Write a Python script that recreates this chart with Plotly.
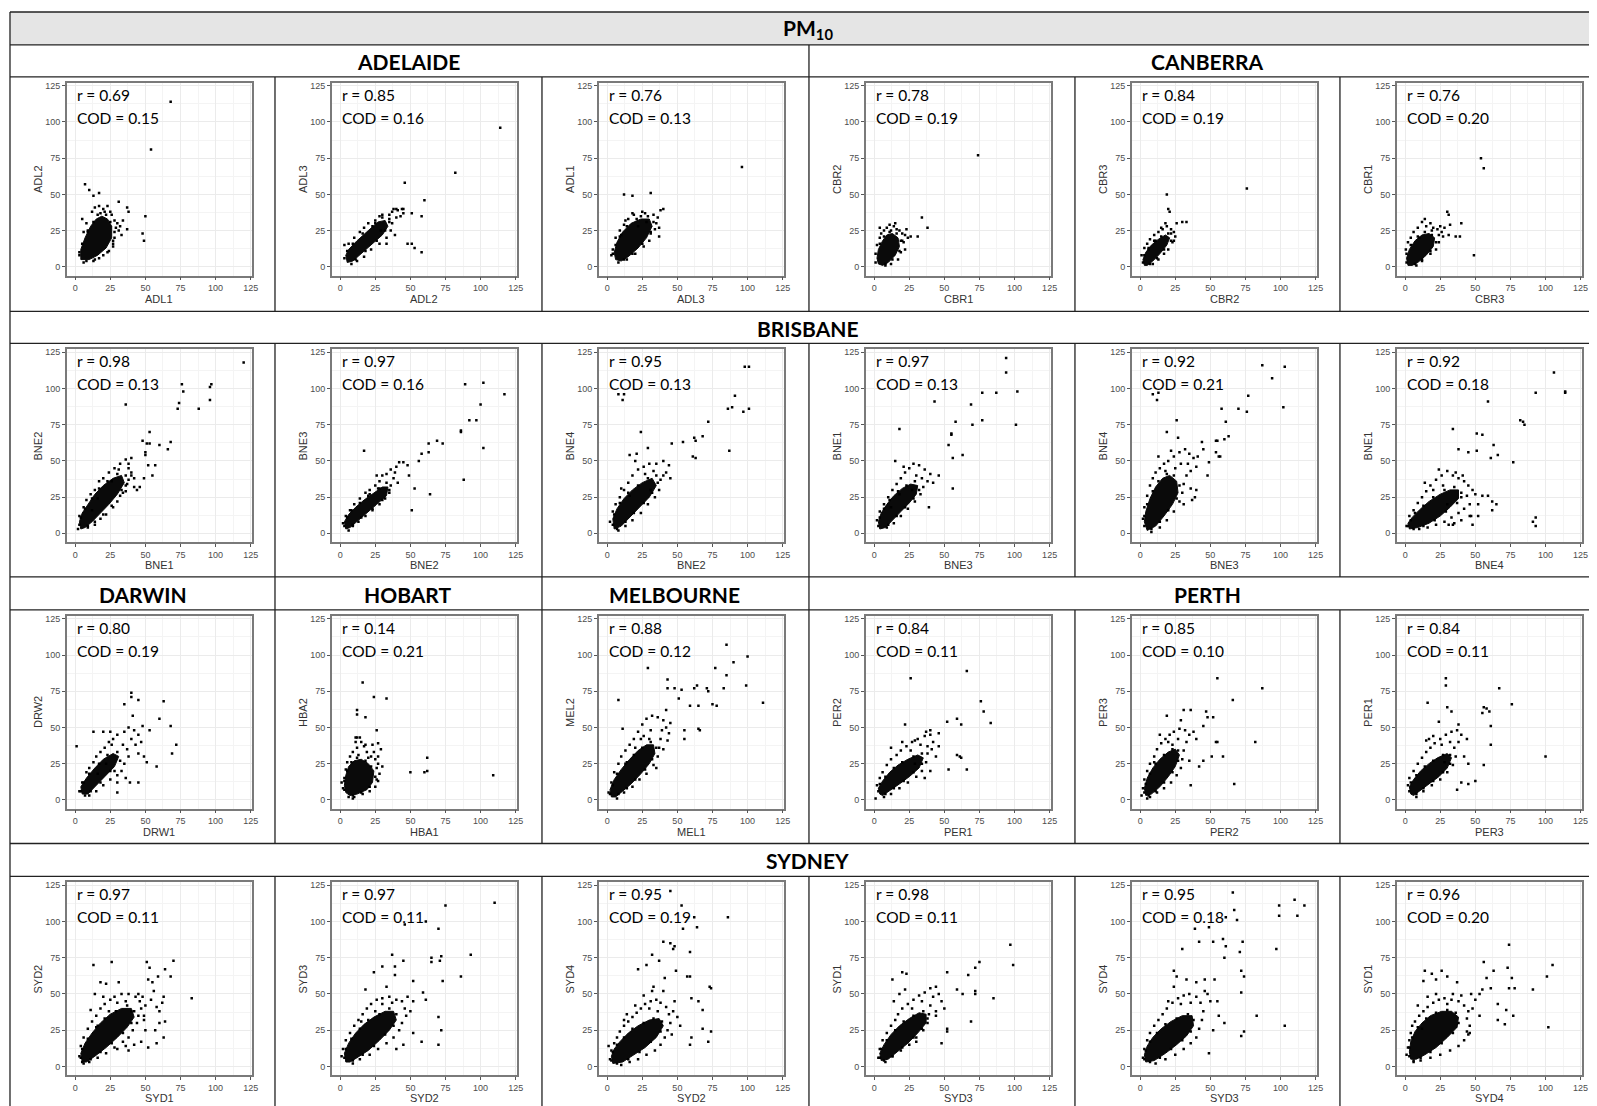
import plotly.graph_objects as go

# ---------------- data ----------------
header_title = "PM<sub>10</sub>"
x_labels = ["ADL1", "ADL2", "ADL3", "CBR1", "CBR2", "CBR3",
            "BNE1", "BNE2", "BNE2", "BNE3", "BNE3", "BNE4",
            "DRW1", "HBA1", "MEL1", "PER1", "PER2", "PER3",
            "SYD1", "SYD2", "SYD2", "SYD3", "SYD3", "SYD4"]
y_labels = ["ADL2", "ADL3", "ADL1", "CBR2", "CBR3", "CBR1",
            "BNE2", "BNE3", "BNE4", "BNE1", "BNE4", "BNE1",
            "DRW2", "HBA2", "MEL2", "PER2", "PER3", "PER1",
            "SYD2", "SYD3", "SYD4", "SYD1", "SYD4", "SYD1"]
r_values = [0.69, 0.85, 0.76, 0.78, 0.84, 0.76,
            0.98, 0.97, 0.95, 0.97, 0.92, 0.92,
            0.80, 0.14, 0.88, 0.84, 0.85, 0.84,
            0.97, 0.97, 0.95, 0.98, 0.95, 0.96]
cod_values = [0.15, 0.16, 0.13, 0.19, 0.19, 0.20,
              0.13, 0.16, 0.13, 0.13, 0.21, 0.18,
              0.19, 0.21, 0.12, 0.11, 0.10, 0.11,
              0.11, 0.11, 0.19, 0.11, 0.18, 0.20]
axis_ticks = [0, 25, 50, 75, 100, 125]
# city title, panel row, first column, last column
city_titles = [("ADELAIDE", 0, 0, 2), ("CANBERRA", 0, 3, 5),
               ("BRISBANE", 1, 0, 5),
               ("DARWIN", 2, 0, 0), ("HOBART", 2, 1, 1), ("MELBOURNE", 2, 2, 2), ("PERTH", 2, 3, 5),
               ("SYDNEY", 3, 0, 5)]

# dense cores of each point cloud (estimated outline) and the individual sparse points
core_ADL1_ADL2 = [(4,5),(4,12),(7,20),(11,28),(15,33),(19,35),(23,33),(26,28),(26,20),(22,13),(16,8),(10,5)]
pts_ADL1_ADL2 = [(68,114),(54,81),(7,57),(10,53),(13,49),(17,51),(50,35),(48,23),(49,18),(31,45),(37,41),(38,38),
                 (37,26),(27,14),(5,33),(8,30),(12,38),(14,41),(17,42),(20,40),(23,42),(25,38),(28,32),(30,30),
                 (31,25),(32,28),(33,22),(28,20),(27,16),(24,11),(20,8),(17,6),(13,4),(6,3),(3,8),(6,24),(9,25),
                 (18,37),(21,38),(29,27),(34,32),(26,36),
                 (3,10),(5,16),(9,24),(13,31),(16,36),(22,36),(25,31),(28,24),(27,18),(23,10),(14,5),(8,4)]
core_ADL2_ADL3 = [(5,3),(4,8),(6,12),(12,18),(20,25),(27,31),(32,32),(34,28),(30,22),(22,15),(15,9),(9,4)]
pts_ADL2_ADL3 = [(114,96),(82,65),(46,58),(60,46),(58,35),(51,37),(48,16),(51,16),(53,13),(58,10),(45,40),(40,40),
                 (37,38),(3,15),(6,16),(10,20),(14,24),(17,27),(20,30),(25,32),(28,35),(35,36),(38,40),(41,39),
                 (44,40),(43,35),(37,30),(36,25),(33,20),(28,16),(22,12),(17,7),(12,4),(8,2),(35,33),(40,34),
                 (30,36),(25,30),(29,25),(45,37),(39,22),(33,16),
                 (3,6),(5,11),(9,16),(16,23),(23,28),(30,34),(35,31),(32,25),(26,18),(18,11),(11,5)]
core_ADL3_ADL1 = [(6,5),(5,10),(7,17),(11,24),(17,30),(24,33),(30,33),(32,28),(28,20),(22,13),(15,7),(10,4)]
pts_ADL3_ADL1 = [(96,69),(12,50),(18,49),(31,51),(40,40),(37,21),(18,37),(4,12),(6,20),(9,25),(12,29),(15,33),
                 (19,36),(24,35),(27,37),(33,36),(36,34),(38,39),(35,30),(34,26),(30,18),(26,14),(20,9),(14,5),
                 (8,3),(3,8),(13,32),(28,31),(37,27),(31,23),(22,28),(10,22),(25,38),
                 (4,9),(6,15),(9,21),(14,28),(21,33),(29,35),(33,31),(31,24),(25,16),(18,9),(12,5)]
core_CBR1_CBR2 = [(3,2),(2,6),(3,12),(6,18),(9,22),(13,23),(17,20),(18,14),(15,8),(10,3),(6,1)]
pts_CBR1_CBR2 = [(74,77),(34,34),(38,27),(31,21),(2,15),(4,20),(5,23),(7,25),(9,27),(11,29),(14,28),(16,26),
                 (18,25),(20,23),(22,22),(24,20),(21,17),(22,12),(19,10),(17,5),(12,2),(4,27),(12,25),(15,30),
                 (26,21),(20,18),(1,3),(8,1),(23,26),
                 (1,9),(4,16),(7,21),(11,24),(16,23),(19,18),(18,11),(13,5),(8,2)]
core_CBR2_CBR3 = [(3,1),(2,5),(4,10),(8,15),(13,19),(18,22),(21,20),(19,15),(14,9),(9,4),(5,1)]
pts_CBR2_CBR3 = [(76,54),(19,50),(20,40),(21,38),(33,31),(30,31),(1,8),(3,13),(5,16),(7,19),(10,22),(13,24),
                 (16,26),(19,28),(22,26),(24,24),(25,21),(23,17),(20,12),(17,9),(13,5),(9,2),(18,30),(15,27),
                 (24,18),(26,30),(22,23),(6,12),(11,18),
                 (2,3),(3,8),(6,13),(10,18),(15,21),(20,23),(22,18),(17,12),(12,6),(7,2)]
core_CBR3_CBR1 = [(2,1),(1,6),(3,12),(7,18),(12,22),(17,23),(21,20),(20,14),(15,8),(9,3),(5,1)]
pts_CBR3_CBR1 = [(54,75),(56,68),(49,8),(30,38),(31,36),(40,30),(32,29),(36,21),(39,21),(31,22),(0.5,12),(2,17),
                 (4,20),(6,24),(9,27),(12,31),(15,28),(18,30),(20,27),(23,26),(26,24),(27,21),(24,17),(22,12),
                 (18,9),(12,4),(8,1),(14,33),(19,25),(25,28),(28,27),(10,20),(1,3),(24,22),
                 (1,9),(4,15),(9,21),(14,24),(19,22),(22,17),(18,11),(12,5),(7,2)]
core_BNE1_BNE2 = [(4,3),(3,8),(5,14),(9,20),(14,27),(20,33),(27,38),(33,40),(35,35),(30,27),(24,20),(18,14),(12,8),(7,4)]
pts_BNE1_BNE2 = [(120,118),(76,103),(77,98),(74,90),(73,86),(88,86),(96,101),(97,103),(96,92),(36,89),(53,70),
                 (48,64),(51,62),(53,62),(60,61),(68,63),(66,58),(50,56),(50,54),(57,47),(52,47),(55,40),(49,38),
                 (46,32),(40,40),(42,32),(36,29),(2,3),(3,12),(6,18),(8,23),(11,27),(14,30),(17,36),(20,38),(24,42),
                 (28,45),(32,48),(36,51),(40,52),(38,45),(40,42),(42,38),(36,33),(34,28),(30,22),(27,18),(22,13),
                 (18,10),(14,6),(9,4),(31,44),(26,36),(38,37),(33,30),(44,30),(16,24),(38,48),(12,16),
                 (3,6),(4,11),(7,17),(12,24),(17,31),(23,36),(30,41),(36,40),(37,34),(32,26),(26,19),(20,13),(14,8),(9,5)]
core_BNE2_BNE3 = [(4,3),(3,8),(6,13),(11,18),(17,23),(24,28),(30,32),(34,32),(33,26),(26,20),(19,14),(12,8),(7,4)]
pts_BNE2_BNE3 = [(89,103),(102,104),(117,96),(100,89),(92,78),(97,78),(86,71),(86,70),(69,64),(73,62),(63,62),
                 (63,56),(58,55),(56,50),(102,59),(88,37),(17,57),(64,27),(53,31),(51,16),(42,49),(45,49),(48,47),
                 (49,40),(2,7),(4,12),(7,16),(10,20),(14,24),(18,28),(21,30),(25,33),(28,36),(30,40),(33,41),
                 (36,44),(40,46),(38,38),(36,33),(35,28),(32,24),(28,20),(23,16),(18,12),(13,8),(9,5),(6,2),
                 (26,40),(39,42),(41,35),(27,31),(20,26),
                 (3,5),(5,11),(8,16),(14,21),(21,27),(28,31),(33,35),(35,30),(30,23),(23,17),(15,11),(9,6)]
core_BNE2_BNE4 = [(5,3),(4,10),(7,17),(12,24),(18,30),(25,35),(32,38),(35,33),(30,25),(23,18),(16,11),(10,5)]
pts_BNE2_BNE4 = [(98,115),(101,115),(91,95),(86,86),(89,87),(97,84),(101,86),(8,96),(12,96),(11,92),(24,70),
                 (72,77),(68,67),(62,66),(63,64),(54,63),(46,62),(61,53),(63,52),(87,57),(29,59),(21,55),(16,54),
                 (2,8),(4,15),(6,20),(9,25),(12,30),(15,35),(18,40),(22,44),(26,46),(30,48),(35,48),(40,50),(44,47),
                 (42,42),(38,37),(37,30),(34,25),(29,20),(24,14),(18,9),(13,5),(8,2),(20,50),(27,41),(33,43),
                 (40,40),(45,38),(31,30),(10,31),(16,26),
                 (4,6),(5,13),(9,21),(15,28),(22,33),(29,38),(35,40),(36,35),(32,28),(26,21),(19,14),(13,8),(7,3)]
core_BNE3_BNE1 = [(4,3),(3,8),(5,14),(9,20),(14,26),(20,31),(26,34),(31,33),(30,27),(25,21),(19,15),(13,9),(8,4)]
pts_BNE3_BNE1 = [(94,121),(94,111),(102,98),(77,97),(87,97),(43,91),(69,89),(70,75),(77,78),(101,75),(58,77),
                 (55,69),(55,68),(53,61),(63,54),(56,52),(18,72),(56,31),(39,18),(2,9),(4,15),(7,20),(10,25),
                 (13,30),(16,34),(19,38),(22,42),(25,45),(28,48),(32,47),(36,44),(40,41),(38,36),(35,32),(33,27),
                 (29,22),(24,17),(19,12),(14,7),(9,4),(15,50),(21,46),(30,40),(42,35),(46,40),(34,38),(18,27),
                 (27,30),(12,18),
                 (3,5),(4,11),(7,17),(11,23),(17,29),(23,33),(29,36),(32,30),(28,24),(22,18),(16,12),(10,6)]
core_BNE3_BNE4 = [(5,2),(3,8),(4,15),(7,24),(11,32),(16,38),(21,40),(26,36),(27,28),(23,20),(17,12),(11,5)]
pts_BNE3_BNE4 = [(87,116),(103,115),(94,107),(77,95),(102,87),(76,84),(58,86),(70,86),(61,77),(63,67),(60,65),
                 (9,96),(13,97),(12,92),(26,78),(19,70),(27,66),(54,64),(55,64),(54,56),(56,53),(57,53),(48,40),
                 (49,49),(44,63),(45,58),(36,31),(40,30),(39,25),(37,23),(2,10),(3,18),(5,26),(7,33),(9,38),
                 (11,42),(14,45),(17,48),(20,50),(24,53),(28,56),(32,58),(35,55),(38,52),(40,46),(36,43),(33,40),
                 (31,34),(30,28),(28,22),(24,15),(19,9),(14,4),(8,1),(13,53),(22,57),(29,48),(34,48),(41,53),
                 (18,43),(25,45),(31,20),
                 (3,5),(3,12),(5,20),(9,29),(13,36),(19,41),(24,40),(28,33),(26,24),(20,16),(14,8),(8,3)]
core_BNE4_BNE1 = [(3,3),(2,7),(5,11),(10,16),(17,22),(25,27),(32,30),(38,30),(38,24),(32,18),(25,12),(17,7),(9,4)]
pts_BNE4_BNE1 = [(106,111),(93,97),(114,98),(114,97),(59,91),(82,78),(84,77),(85,75),(34,72),(51,69),(55,68),
                 (63,61),(38,58),(45,56),(51,57),(61,52),(66,54),(77,49),(91,8),(93,11),(93,5),(65,20),(62,22),
                 (62,16),(59,26),(52,12),(46,12),(48,6),(40,9),(31,6),(34,6),(1,5),(3,12),(6,16),(9,21),(12,25),
                 (15,29),(18,33),(22,37),(26,40),(30,43),(34,40),(38,38),(42,36),(45,33),(48,30),(44,26),(46,20),
                 (42,17),(38,14),(33,11),(28,8),(22,6),(16,4),(10,3),(20,30),(27,33),(36,42),(40,25),(50,27),
                 (24,44),(14,35),(41,40),(52,20),(47,12),(55,26),(30,20),(35,7),
                 (2,5),(4,9),(7,14),(13,19),(20,25),(28,30),(35,32),(40,28),(37,21),(29,15),(21,9),(13,5),(6,3)]
core_DRW1_DRW2 = [(5,4),(4,9),(8,15),(14,22),(20,28),(27,32),(31,30),(28,23),(21,16),(14,9),(9,4)]
pts_DRW1_DRW2 = [(40,74),(40,71),(45,69),(63,68),(35,66),(60,56),(41,58),(1,37),(13,47),(68,51),(72,38),(69,32),
                 (58,23),(51,26),(45,12),(39,12),(30,5),(53,48),(48,51),(3,6),(5,12),(8,19),(10,22),(13,26),(15,30),
                 (18,33),(21,36),(24,40),(27,42),(30,45),(35,47),(38,50),(42,48),(40,42),(43,38),(45,32),(38,30),
                 (35,25),(33,20),(30,17),(25,14),(20,10),(15,6),(10,3),(20,47),(26,38),(34,38),(47,40),(49,30),
                 (36,15),(30,12),(22,25),(16,18),(37,35),(45,45),(25,47),(28,20),
                 (4,6),(6,12),(10,18),(17,25),(23,31),(30,33),(32,27),(25,20),(18,12),(11,6),(7,3)]
core_HBA1_HBA2 = [(4,5),(3,10),(4,17),(6,23),(10,27),(15,28),(20,25),(24,20),(23,12),(19,7),(12,4),(7,3)]
pts_HBA1_HBA2 = [(16,81),(24,71),(33,70),(12,62),(12,59),(18,57),(26,48),(60,19),(62,29),(62,20),(50,19),(109,17),
                 (11,43),(12,43),(23,38),(27,39),(29,35),(30,23),(27,13),(9,1),(2,8),(3,15),(4,21),(5,26),(7,30),
                 (9,33),(12,36),(15,40),(17,37),(19,33),(22,30),(25,28),(27,25),(28,18),(26,14),(25,9),(21,6),
                 (16,4),(10,2),(6,2),(13,31),(24,33),(18,38),(14,43),(26,22),(11,40),(20,29),(27,30),(1,12),
                 (3,7),(3,13),(5,20),(8,26),(12,29),(18,27),(22,23),(25,16),(21,9),(15,5),(9,3)]
core_MEL1_MEL2 = [(3,2),(2,7),(5,14),(10,21),(16,28),(22,34),(28,38),(33,38),(34,32),(30,25),(24,18),(17,11),(11,6),(6,2)]
pts_MEL1_MEL2 = [(85,107),(100,99),(90,95),(29,91),(77,91),(85,86),(43,83),(48,77),(43,77),(62,77),(64,79),(71,77),
                 (83,77),(99,79),(72,75),(53,76),(51,70),(59,65),(65,65),(75,66),(78,65),(111,67),(65,49),(66,48),
                 (55,48),(55,42),(8,69),(42,62),(11,49),(1,5),(3,12),(5,19),(8,25),(10,30),(13,34),(16,38),(19,42),
                 (22,47),(25,52),(28,56),(32,58),(36,57),(40,55),(42,50),(44,46),(38,42),(37,36),(36,30),(33,24),
                 (28,18),(23,14),(18,9),(12,5),(7,1),(26,44),(31,48),(39,48),(45,53),(20,36),(14,26),(40,35),
                 (35,22),(24,42),(30,42),(43,41),
                 (2,4),(4,10),(7,18),(13,25),(19,31),(25,36),(31,40),(35,36),(32,28),(27,21),(20,14),(14,8),(8,4)]
core_PER1_PER2 = [(4,4),(3,8),(6,13),(11,19),(17,24),(24,28),(31,31),(35,29),(32,22),(25,16),(18,11),(11,6),(6,3)]
pts_PER1_PER2 = [(66,89),(26,84),(76,68),(78,61),(83,53),(59,56),(62,52),(52,54),(22,52),(46,37),(59,31),(61,30),
                 (62,29),(53,21),(66,21),(37,47),(40,48),(46,46),(29,41),(12,36),(1,1),(2,10),(4,15),(6,19),(9,24),
                 (12,28),(16,31),(19,34),(23,37),(27,40),(31,42),(36,44),(40,45),(42,40),(38,37),(38,32),(37,26),
                 (34,20),(30,16),(24,12),(18,8),(12,4),(7,2),(20,40),(26,34),(33,38),(41,35),(44,30),(36,15),
                 (40,20),(29,25),
                 (3,6),(4,11),(8,16),(14,22),(20,26),(28,30),(34,32),(34,25),(28,19),(21,13),(14,8),(8,4)]
core_PER2_PER3 = [(4,3),(3,8),(5,15),(9,22),(14,28),(20,33),(25,35),(28,31),(25,23),(20,16),(14,9),(8,4)]
pts_PER2_PER3 = [(55,84),(87,77),(66,69),(31,62),(36,62),(47,61),(52,57),(48,57),(19,58),(29,55),(82,40),(54,40),
                 (55,40),(51,30),(59,30),(67,11),(42,23),(45,27),(36,10),(45,51),(1,3),(5,1),(2,8),(3,14),(5,20),
                 (7,25),(10,30),(12,35),(15,39),(18,42),(21,45),(24,47),(28,49),(32,48),(35,45),(33,40),(31,34),
                 (30,28),(29,22),(26,17),(22,12),(17,8),(12,5),(7,2),(14,45),(20,40),(27,42),(38,47),(40,42),
                 (35,27),(10,26),(23,38),
                 (3,5),(4,11),(7,18),(11,25),(17,31),(23,35),(27,34),(27,27),(23,19),(17,12),(11,6),(6,3)]
core_PER3_PER1 = [(4,4),(3,9),(6,14),(11,20),(17,25),(23,29),(30,32),(33,29),(30,22),(24,16),(17,11),(10,6),(6,3)]
pts_PER3_PER1 = [(29,84),(29,79),(67,77),(76,66),(16,67),(30,64),(33,61),(56,64),(58,63),(60,61),(55,60),(61,51),
                 (61,38),(100,30),(56,24),(50,13),(40,12),(45,11),(37,7),(24,54),(38,52),(17,42),(15,41),(2,10),
                 (3,15),(6,20),(9,25),(12,29),(15,33),(18,36),(21,39),(25,42),(29,45),(33,47),(37,48),(40,45),
                 (38,40),(35,36),(36,30),(34,24),(30,19),(25,14),(19,10),(13,6),(8,2),(20,44),(26,38),(32,40),
                 (44,42),(42,30),(45,25),(28,26),
                 (3,6),(4,12),(8,17),(14,23),(20,27),(27,31),(32,31),(32,25),(27,19),(20,13),(13,8),(8,4)]
core_SYD1_SYD2 = [(5,3),(4,9),(7,16),(12,23),(18,30),(25,36),(33,40),(40,40),(42,34),(37,27),(30,20),(22,13),(14,7),(8,3)]
pts_SYD1_SYD2 = [(13,70),(26,72),(51,72),(53,68),(64,67),(70,73),(68,62),(59,62),(55,58),(52,60),(63,48),(62,44),
                 (58,41),(60,38),(83,47),(64,31),(63,20),(58,16),(52,13),(47,17),(42,15),(38,11),(60,30),(57,25),
                 (50,25),(49,35),(48,48),(45,50),(56,52),(54,46),(18,58),(22,57),(31,58),(11,39),(5,3),(3,7),(4,14),
                 (6,20),(9,26),(12,31),(15,35),(18,40),(21,43),(25,46),(28,48),(33,50),(38,50),(43,48),(46,45),
                 (47,40),(45,35),(44,30),(41,25),(38,20),(34,17),(28,13),(22,9),(16,6),(10,3),(30,44),(36,45),
                 (40,38),(50,42),(24,38),(16,28),(49,32),(36,14),(30,12),(14,50),(20,48),
                 (4,6),(5,12),(9,19),(15,27),(21,33),(29,38),(37,42),(42,38),(40,30),(34,23),(26,16),(18,10),(11,5),(6,2)]
core_SYD2_SYD3 = [(4,3),(3,9),(6,16),(11,23),(17,29),(24,34),(32,38),(38,38),(40,32),(35,25),(28,18),(20,11),(12,6),(7,3)]
pts_SYD2_SYD3 = [(110,113),(75,111),(70,95),(93,77),(86,62),(72,76),(71,73),(65,75),(65,72),(73,59),(70,34),(72,25),
                 (70,15),(58,17),(52,23),(37,77),(45,73),(30,69),(24,65),(39,69),(39,63),(46,98),(61,100),(52,59),
                 (59,51),(61,46),(1,7),(2,12),(4,18),(7,23),(10,28),(13,32),(16,36),(19,40),(22,43),(26,46),(30,47),
                 (35,48),(40,46),(44,45),(46,40),(47,35),(44,30),(42,25),(38,20),(33,16),(27,12),(21,8),(14,5),(9,2),
                 (30,43),(37,44),(48,48),(52,45),(50,38),(25,38),(15,31),(18,53),(33,55),(45,15),(40,12),
                 (3,6),(4,12),(8,19),(14,26),(20,32),(28,36),(35,40),(40,36),(38,28),(32,22),(24,14),(16,8),(9,4)]
core_SYD2_SYD4 = [(4,2),(3,7),(5,12),(9,17),(15,23),(22,28),(30,32),(37,33),(40,28),(35,20),(27,13),(19,8),(11,3)]
pts_SYD2_SYD4 = [(86,103),(53,111),(62,103),(54,95),(45,121),(64,96),(40,86),(45,85),(48,83),(47,81),(32,77),(59,79),
                 (28,70),(37,73),(22,67),(49,66),(57,62),(59,62),(73,55),(74,54),(60,47),(65,45),(68,39),(68,26),
                 (74,24),(72,17),(60,20),(59,15),(33,55),(41,61),(1,14),(2,5),(3,11),(5,16),(7,20),(9,24),(12,28),
                 (15,31),(18,34),(21,37),(24,40),(27,43),(31,45),(35,46),(38,44),(42,41),(44,36),(45,30),(43,25),
                 (41,20),(38,15),(34,11),(28,8),(22,5),(16,3),(10,1),(30,40),(36,38),(47,38),(50,34),(52,28),
                 (48,45),(26,49),(20,42),(14,36),(32,52),(40,52),(46,22),(12,32),
                 (3,4),(4,10),(7,15),(12,20),(18,26),(26,30),(33,33),(39,31),(38,24),(31,17),(23,10),(15,5),(7,2)]
core_SYD3_SYD1 = [(5,4),(4,9),(7,15),(12,22),(18,28),(25,33),(32,37),(37,36),(37,30),(31,23),(24,16),(16,10),(10,5)]
pts_SYD3_SYD1 = [(97,84),(99,70),(75,72),(72,68),(67,63),(72,52),(72,50),(85,47),(69,31),(52,24),(52,26),(48,16),
                 (44,38),(52,65),(59,53),(63,50),(20,65),(23,64),(13,60),(3,6),(4,12),(6,18),(9,23),(12,28),(15,32),
                 (17,36),(20,40),(24,43),(28,46),(32,49),(36,51),(40,54),(44,55),(42,48),(40,42),(39,36),(38,30),
                 (35,25),(30,20),(25,15),(19,11),(13,7),(8,3),(27,40),(34,45),(46,50),(48,45),(50,40),(18,50),
                 (22,53),(14,45),(44,35),(30,17),
                 (4,6),(5,12),(9,18),(15,25),(21,31),(28,35),(35,38),(38,33),(34,26),(28,20),(20,13),(13,7),(7,4)]
core_SYD3_SYD4 = [(4,3),(3,8),(5,14),(9,20),(15,26),(22,31),(30,35),(37,35),(38,28),(33,21),(26,15),(18,9),(10,4)]
pts_SYD3_SYD4 = [(66,120),(110,115),(117,111),(99,111),(99,104),(112,104),(67,108),(69,101),(49,96),(39,95),(61,103),
                 (97,81),(73,86),(61,83),(52,86),(59,88),(42,86),(30,81),(60,75),(71,79),(72,66),(74,62),(72,51),
                 (83,35),(103,28),(74,24),(72,21),(49,9),(24,66),(26,62),(46,60),(53,60),(2,6),(3,12),(5,18),(7,23),
                 (10,28),(13,32),(16,36),(19,40),(23,44),(27,47),(31,49),(35,50),(40,48),(43,44),(45,38),(44,32),
                 (42,26),(40,20),(36,16),(31,12),(25,8),(18,5),(11,2),(29,43),(36,44),(48,50),(50,45),(55,45),
                 (56,35),(60,30),(52,25),(24,55),(33,60),(40,58),(46,52),(20,45),
                 (3,5),(4,11),(7,17),(12,23),(18,29),(26,33),(34,36),(38,32),(36,24),(30,18),(22,12),(14,6),(7,3)]
core_SYD4_SYD1 = [(4,5),(3,10),(4,17),(7,24),(12,30),(18,35),(26,38),(33,38),(38,34),(37,27),(30,20),(22,13),(14,8),(8,5)]
pts_SYD4_SYD1 = [(74,84),(105,70),(101,62),(91,53),(102,27),(73,68),(76,61),(74,54),(78,54),(77,35),(72,39),(66,32),
                 (71,29),(66,43),(56,72),(63,66),(58,61),(61,54),(55,53),(14,66),(19,64),(26,66),(22,60),(30,62),
                 (13,59),(37,58),(53,50),(46,23),(1,8),(2,13),(3,18),(4,23),(5,28),(7,31),(10,35),(13,38),(16,41),
                 (20,44),(24,46),(28,47),(33,46),(38,45),(42,42),(45,38),(44,33),(46,28),(45,22),(42,18),(38,14),
                 (32,11),(25,8),(18,6),(11,4),(6,3),(30,43),(40,49),(47,50),(50,46),(48,40),(53,35),(44,24),(16,48),
                 (22,50),(34,50),(9,42),(12,26),
                 (3,7),(3,13),(5,20),(9,27),(15,33),(22,37),(30,39),(36,37),(38,30),(34,23),(26,16),(18,10),(11,6),(6,4)]

panel_cores = [core_ADL1_ADL2, core_ADL2_ADL3, core_ADL3_ADL1, core_CBR1_CBR2, core_CBR2_CBR3, core_CBR3_CBR1,
               core_BNE1_BNE2, core_BNE2_BNE3, core_BNE2_BNE4, core_BNE3_BNE1, core_BNE3_BNE4, core_BNE4_BNE1,
               core_DRW1_DRW2, core_HBA1_HBA2, core_MEL1_MEL2, core_PER1_PER2, core_PER2_PER3, core_PER3_PER1,
               core_SYD1_SYD2, core_SYD2_SYD3, core_SYD2_SYD4, core_SYD3_SYD1, core_SYD3_SYD4, core_SYD4_SYD1]
panel_points = [pts_ADL1_ADL2, pts_ADL2_ADL3, pts_ADL3_ADL1, pts_CBR1_CBR2, pts_CBR2_CBR3, pts_CBR3_CBR1,
                pts_BNE1_BNE2, pts_BNE2_BNE3, pts_BNE2_BNE4, pts_BNE3_BNE1, pts_BNE3_BNE4, pts_BNE4_BNE1,
                pts_DRW1_DRW2, pts_HBA1_HBA2, pts_MEL1_MEL2, pts_PER1_PER2, pts_PER2_PER3, pts_PER3_PER1,
                pts_SYD1_SYD2, pts_SYD2_SYD3, pts_SYD2_SYD4, pts_SYD3_SYD1, pts_SYD3_SYD4, pts_SYD4_SYD1]

# ---------------- layout geometry (pixels of the page) ----------------
PAGE_W, PAGE_H = 1597, 1106
OFF = 8                      # default body margin of the html page
W, H = PAGE_W - OFF, PAGE_H - OFF
col_left = [10, 276, 544, 812, 1079, 1345]
col_w = 267
row_top = [75, 342, 609, 876]
row_bottom = [310, 576, 843, 1106]
title_band = [(43, 75), (310, 342), (576, 609), (843, 876)]
frame_dx, frame_w = 57, 186
frame_dy, frame_h = 6, 193

TITLE_FONT = "Lato, 'Open Sans', sans-serif"
AXIS_FONT = "'Liberation Sans', Arial, sans-serif"


def px(x):
    return (x - OFF) / W


def py(y):
    return 1 - (y - OFF) / H


fig = go.Figure()
layout = dict(width=W, height=H, margin=dict(l=0, r=0, t=0, b=0),
              paper_bgcolor="white", plot_bgcolor="white", showlegend=False)
annotations = []
shapes = []

for i in range(24):
    row, col = divmod(i, 6)
    n = i + 1
    xa = "x" if n == 1 else f"x{n}"
    ya = "y" if n == 1 else f"y{n}"
    L = col_left[col] + frame_dx
    T = row_top[row] + frame_dy
    common = dict(
        tickvals=axis_ticks, ticks="outside", ticklen=3, tickwidth=1, tickcolor="#555",
        tickfont=dict(family=AXIS_FONT, size=9, color="#4d4d4d"),
        showline=True, mirror=True, linecolor="#7a7a7a", linewidth=1.5,
        showgrid=True, gridcolor="#ebebeb", gridwidth=1, zeroline=False,
        minor=dict(dtick=12.5, showgrid=True, gridcolor="#f4f4f4", gridwidth=0.6),
        fixedrange=True,
    )
    layout["xaxis" if n == 1 else f"xaxis{n}"] = dict(
        domain=[px(L), px(L + frame_w)], range=[-6, 126], anchor=ya, **common)
    layout["yaxis" if n == 1 else f"yaxis{n}"] = dict(
        domain=[py(T + frame_h), py(T)], range=[-6, 127], anchor=xa, **common)

    core = panel_cores[i]
    fig.add_trace(go.Scatter(
        x=[p[0] for p in core] + [core[0][0]], y=[p[1] for p in core] + [core[0][1]],
        xaxis=xa, yaxis=ya, mode="lines", fill="toself", fillcolor="#0a0a0a",
        line=dict(color="#0a0a0a", width=1), hoverinfo="skip"))
    pts = panel_points[i]
    fig.add_trace(go.Scatter(
        x=[p[0] for p in pts], y=[p[1] for p in pts], xaxis=xa, yaxis=ya, mode="markers",
        marker=dict(symbol="square", size=2.5, color="black", line=dict(width=0))))

    dom_x = f"{xa} domain"
    dom_y = f"{ya} domain"
    annotations += [
        dict(text=f"r = {r_values[i]:.2f}", xref=dom_x, yref=dom_y, x=0.045, y=0.938,
             xanchor="left", yanchor="middle", showarrow=False,
             font=dict(family=TITLE_FONT, size=15.5, color="black")),
        dict(text=f"COD = {cod_values[i]:.2f}", xref=dom_x, yref=dom_y, x=0.045, y=0.818,
             xanchor="left", yanchor="middle", showarrow=False,
             font=dict(family=TITLE_FONT, size=15.5, color="black")),
        dict(text=x_labels[i], xref=dom_x, yref=dom_y, x=0.5, y=0, yshift=-23,
             xanchor="center", yanchor="middle", showarrow=False,
             font=dict(family=AXIS_FONT, size=11, color="#333")),
        dict(text=y_labels[i], xref=dom_x, yref=dom_y, x=0, y=0.5, xshift=-29, textangle=-90,
             xanchor="center", yanchor="middle", showarrow=False,
             font=dict(family=AXIS_FONT, size=11, color="#333")),
    ]

# header band
shapes.append(dict(type="rect", xref="paper", yref="paper", x0=px(10), x1=px(PAGE_W + 5), y0=py(43), y1=py(10),
                   fillcolor="#e5e5e5", line=dict(width=0), layer="below"))
annotations.append(dict(text=f"<b>{header_title}</b>", xref="paper", yref="paper", x=px(811), y=py(27),
                        xanchor="center", yanchor="middle", showarrow=False,
                        font=dict(family=TITLE_FONT, size=21, color="black")))

# city titles
line_style = dict(color="#222", width=1.3)
for name, row, c0, c1 in city_titles:
    left = col_left[c0]
    right = col_left[c1] + col_w
    top, bot = title_band[row]
    annotations.append(dict(text=f"<b>{name}</b>", xref="paper", yref="paper", x=px((left + right) / 2),
                            y=py((top + bot) / 2 + 1), xanchor="center", yanchor="middle", showarrow=False,
                            font=dict(family=TITLE_FONT, size=21, color="black")))
    if c0 > 0:
        shapes.append(dict(type="line", xref="paper", yref="paper", x0=px(left), x1=px(left),
                           y0=py(top), y1=py(bot), line=line_style))

# table lines
for y in [10, 43, 75, 310, 342, 576, 609, 843, 876]:
    shapes.append(dict(type="line", xref="paper", yref="paper", x0=px(10), x1=px(PAGE_W + 5),
                       y0=py(y), y1=py(y), line=line_style))
shapes.append(dict(type="line", xref="paper", yref="paper", x0=px(10), x1=px(10),
                   y0=py(10), y1=py(PAGE_H + 5), line=line_style))
for r in range(4):
    for c in range(1, 6):
        shapes.append(dict(type="line", xref="paper", yref="paper", x0=px(col_left[c]), x1=px(col_left[c]),
                           y0=py(row_top[r]), y1=py(row_bottom[r] + (5 if r == 3 else 0)), line=line_style))

layout["annotations"] = annotations
layout["shapes"] = shapes
fig.update_layout(**layout)
fig.write_html("out.html")
